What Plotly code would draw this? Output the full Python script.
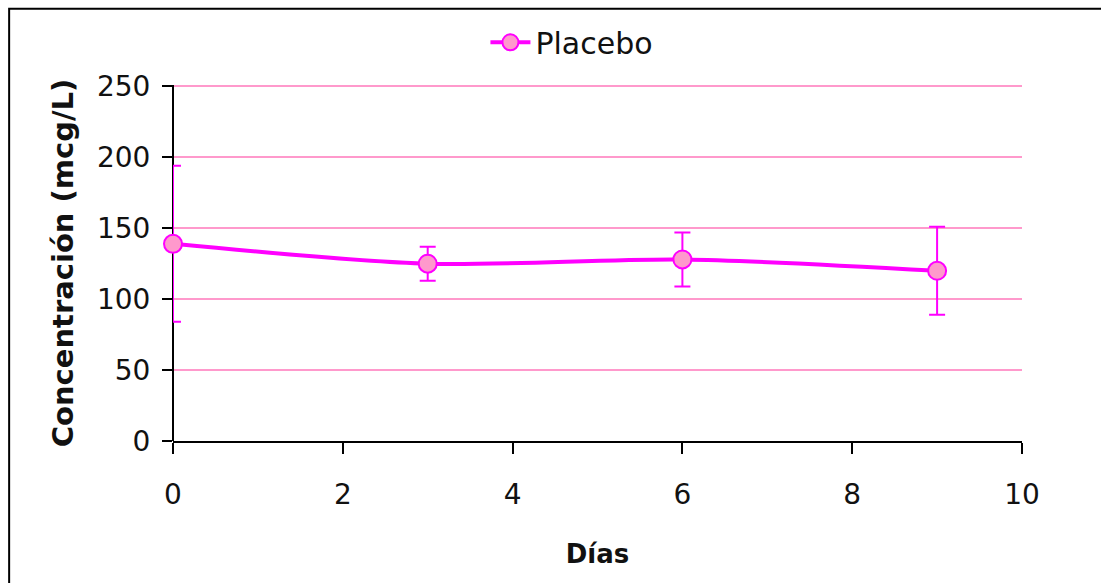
import plotly.graph_objects as go

# Placebo concentration over time
dias = [0, 3, 6, 9]
concentracion = [139, 125, 128, 120]
error = [55, 12, 19, 31]

x_ticks = [0, 2, 4, 6, 8, 10]
y_ticks = [0, 50, 100, 150, 200, 250]

MAGENTA = "#FF00FF"
PINK = "#FF99CC"
FONT = "'DejaVu Sans', sans-serif"

fig = go.Figure()
fig.add_trace(go.Scatter(
    x=dias, y=concentracion, name="Placebo",
    mode="lines+markers",
    line=dict(color=MAGENTA, width=4, shape="spline", smoothing=0.8),
    marker=dict(symbol="circle", size=18, color=PINK,
                line=dict(color=MAGENTA, width=2)),
    error_y=dict(type="data", array=error, visible=True,
                 color=MAGENTA, thickness=2, width=8),
    cliponaxis=False,
))

fig.update_layout(
    width=1101, height=583,
    margin=dict(l=173, r=79, t=85, b=142),
    paper_bgcolor="white", plot_bgcolor="white",
    font=dict(family=FONT, color="#111111", size=28),
    showlegend=True,
    legend=dict(orientation="h", x=0.368, y=1.12, xanchor="left",
                yanchor="middle", font=dict(size=30),
                itemwidth=40, bgcolor="rgba(0,0,0,0)"),
    xaxis=dict(
        range=[0, 10], tickvals=x_ticks, showgrid=False,
        # the x=0 zero line serves as the vertical axis, drawn beneath the data
        zeroline=True, zerolinecolor="black", zerolinewidth=2,
        showline=True, linecolor="black", linewidth=2,
        ticks="outside", ticklen=11, tickwidth=2, tickcolor="black",
        ticklabelstandoff=16, layer="below traces",
        title=dict(text="<b>Días</b>", font=dict(size=26), standoff=35),
    ),
    yaxis=dict(
        range=[0, 251], tickvals=y_ticks, showgrid=True,
        gridcolor=PINK, gridwidth=1.5, zeroline=False,
        showline=False,
        ticks="outside", ticklen=10, tickwidth=2, tickcolor="black",
        ticklabelstandoff=6, layer="below traces",
        title=dict(text="<b>Concentración (mcg/L)</b>", font=dict(size=29),
                   standoff=14),
    ),
    shapes=[dict(type="rect", xref="paper", yref="paper",
                 x0=-0.193, x1=1.2, y0=-0.6, y1=1.214,
                 line=dict(color="black", width=2), layer="below")],
)

fig.write_html("out.html")
